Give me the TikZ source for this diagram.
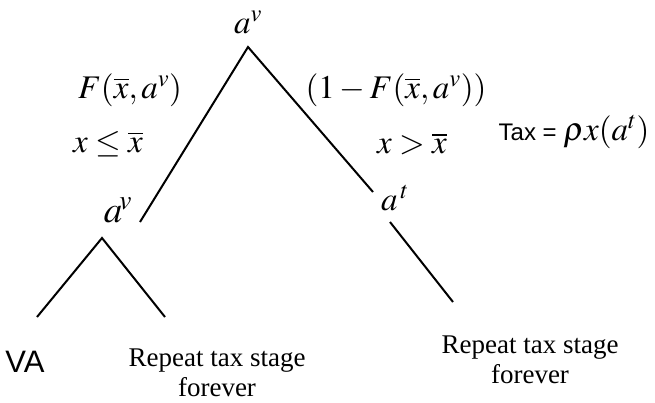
\documentclass[tikz,border=0pt]{standalone}
\usepackage{mathptmx}
\usepackage{fontspec}
\setmainfont{Liberation Serif}
\newfontfamily\arialfont{Liberation Sans}
\begin{document}
\begin{tikzpicture}[x=1pt,y=-1pt,
  edge/.style={line width=2pt},
  mlabel/.style={inner sep=0pt,font=\fontsize{33}{36}\selectfont},
  biglabel/.style={inner sep=0pt,font=\fontsize{37}{40}\selectfont},
  tlabel/.style={inner sep=0pt,align=center,font=\fontsize{27}{30}\selectfont},
  slabel/.style={inner sep=0pt,font=\arialfont\fontsize{31}{34}\selectfont}]
\useasboundingbox (0,0) rectangle (655,402);
% labels
\node[mlabel] (av) at (248,22) {$a^{v}$};
\node[mlabel] (F) at (130,90) {$F(\overline{x},a^{v})$};
\node[mlabel] (xle) at (108,144) {$x\le\overline{x}$};
\node[mlabel] (oneF) at (396,90) {$(1-F(\overline{x},a^{v}))$};
\node[mlabel] (xgt) at (412,144) {$x>\overline{x}$};
\node[inner sep=0pt] (tax) at (574,132) {\arialfont\fontsize{24}{28}\selectfont Tax = \fontsize{33}{36}\selectfont$\rho x(a^{t})$};
\node[biglabel] (avl) at (118,210) {$a^{\!v}$};
\node[mlabel] (at) at (395,198) {$a^{\,t}$};
\node[slabel] (va) at (25,362) {VA};
\node[tlabel] (rep1) at (217,373) {Repeat tax stage\\forever};
\node[tlabel] (rep2) at (530,360) {Repeat tax stage\\forever};
% tree points
\coordinate (top) at (248,47);
\coordinate (lend) at (140,222);
\coordinate (rend) at (373,192);
\coordinate (tstart) at (390,222);
\coordinate (tend) at (453,302);
\coordinate (sub) at (102,238);
\coordinate (subl) at (37,317);
\coordinate (subr) at (165,317);
% edges
\draw[edge] (lend) -- (top) -- (rend);
\draw[edge] (tstart) -- (tend);
\draw[edge] (subl) -- (sub) -- (subr);
\end{tikzpicture}
\end{document}
